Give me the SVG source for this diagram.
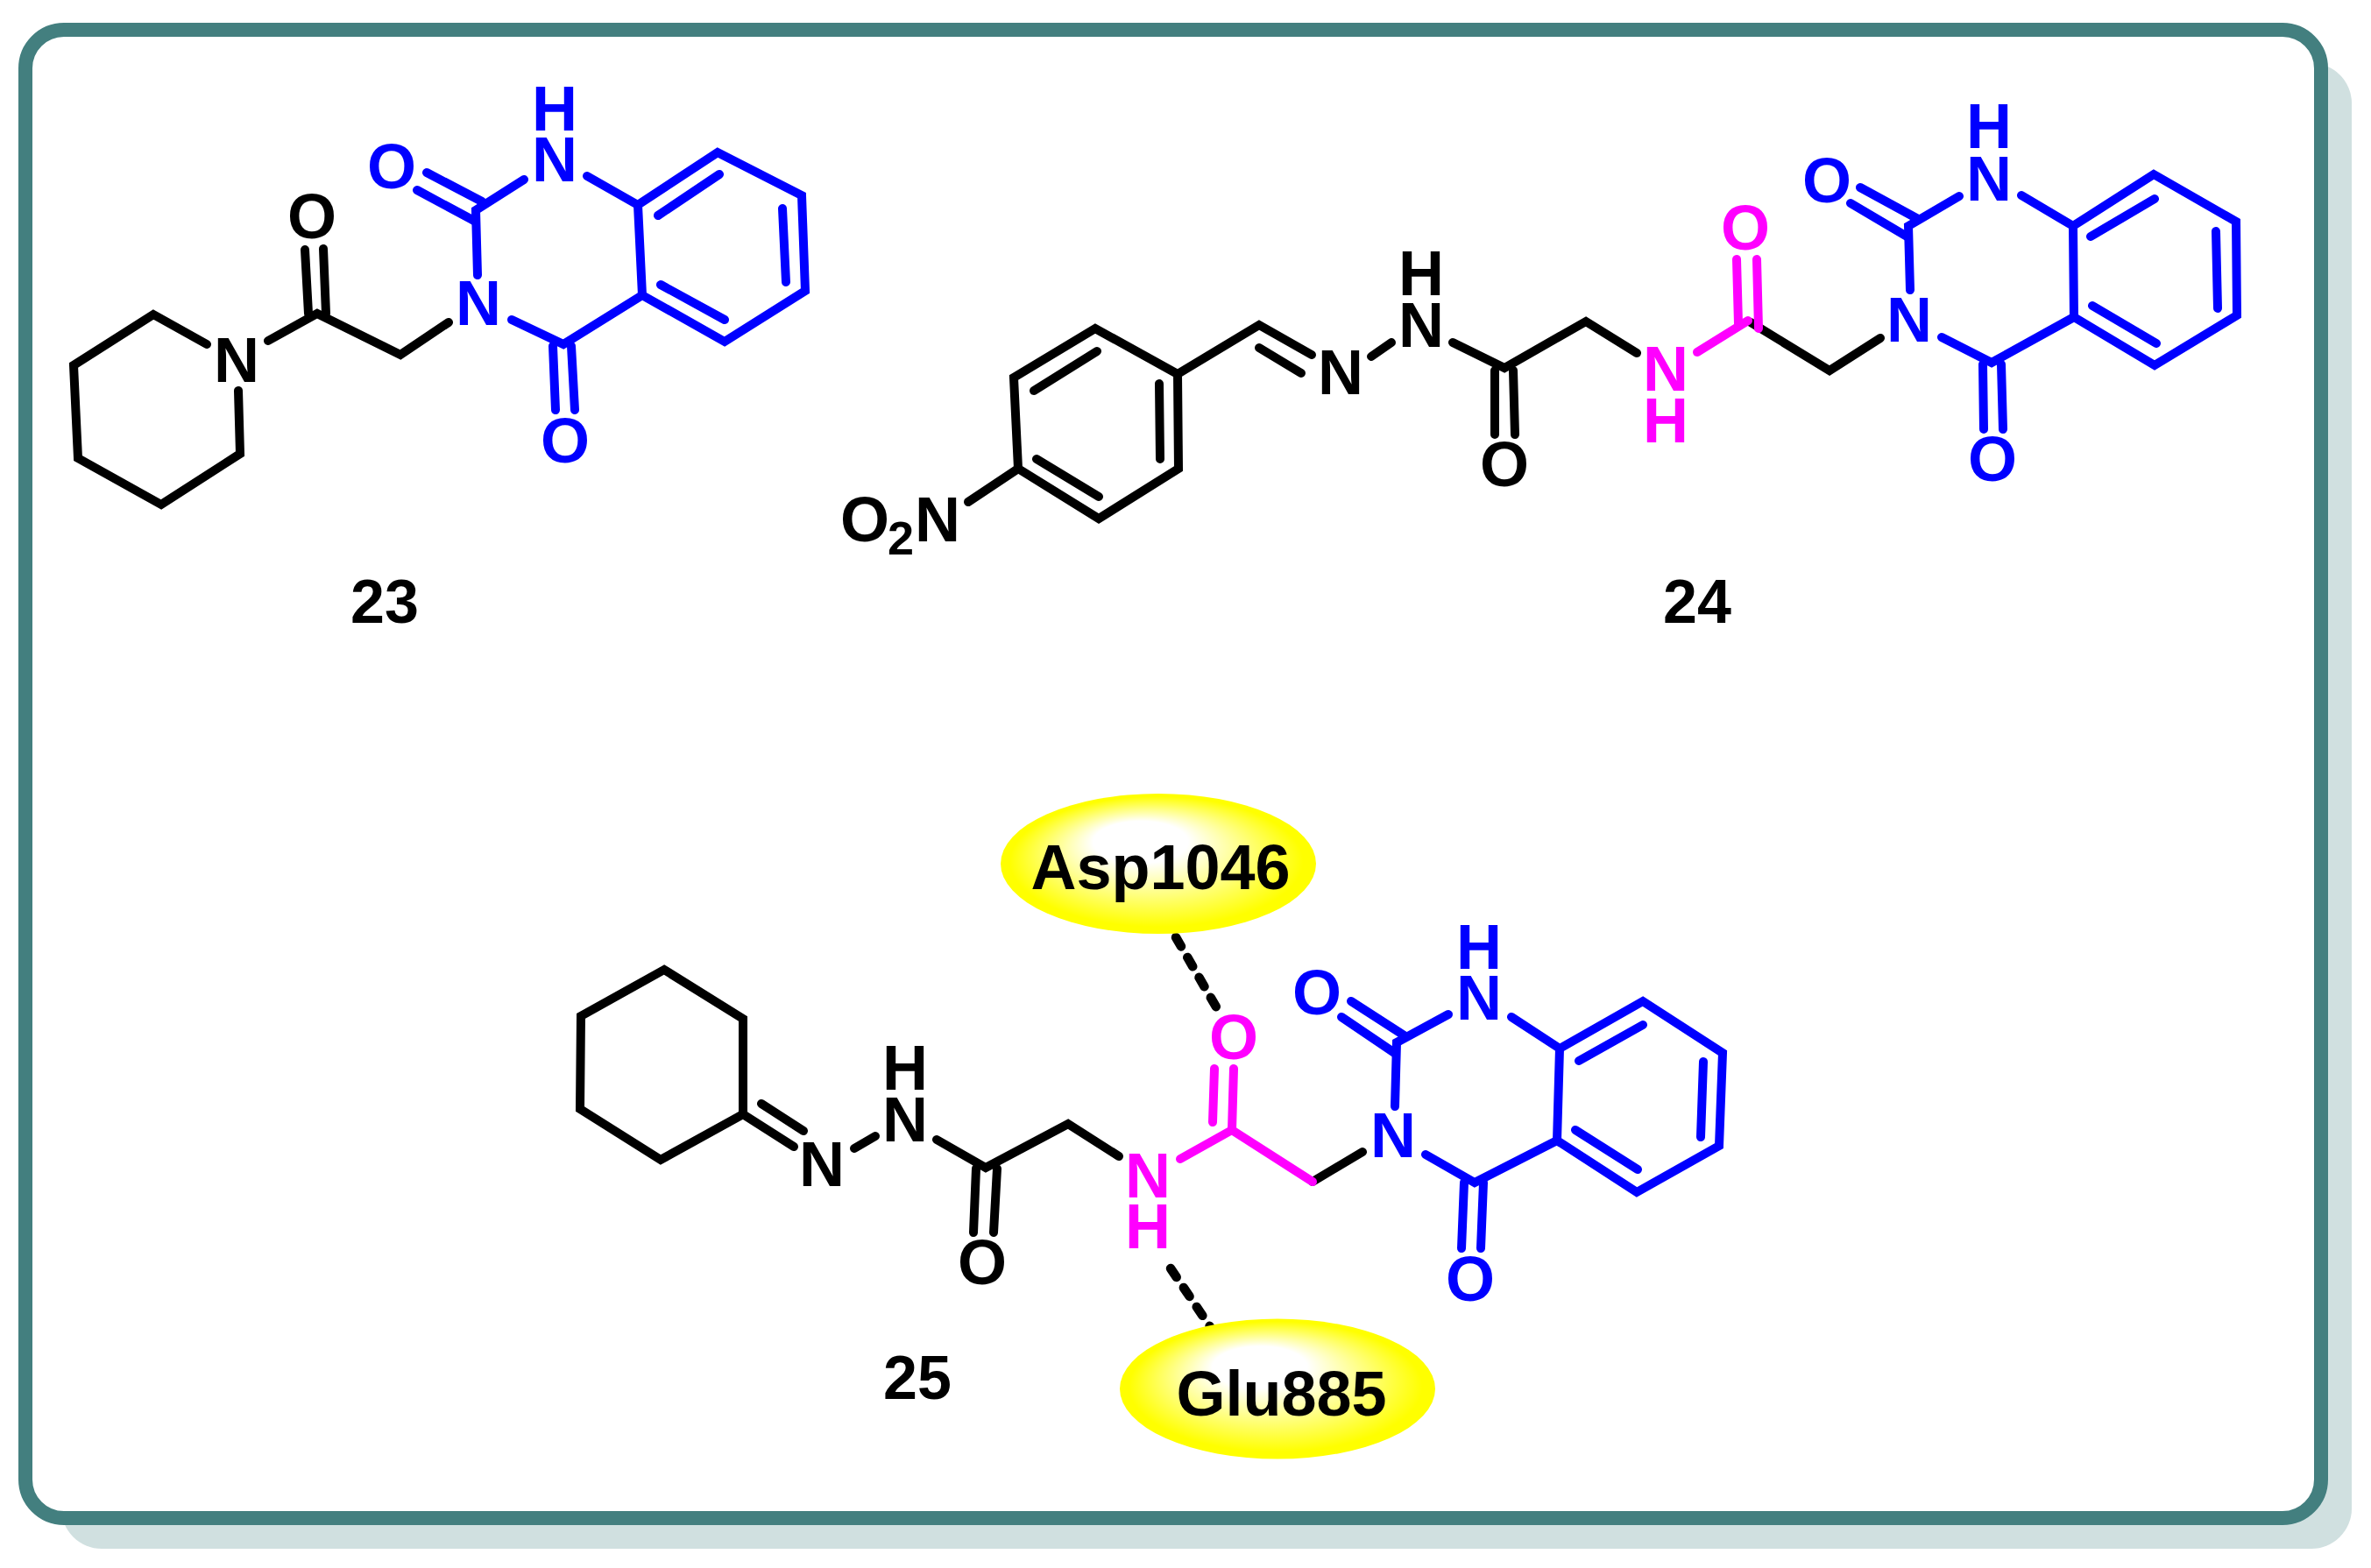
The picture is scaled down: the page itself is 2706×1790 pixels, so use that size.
<svg xmlns="http://www.w3.org/2000/svg" width="2706" height="1790" viewBox="0 0 2706 1790">
<style>
text{font-family:"Liberation Sans",Arial,sans-serif;font-weight:700;font-size:72px;text-anchor:middle}
.k{fill:#000}.b{fill:#00f}.m{fill:#f0f}
.lab{font-size:70px}.sub{font-size:54px}
path{fill:none;stroke-width:10;stroke-linecap:round;stroke-linejoin:miter}
.sk{stroke:#000}.sb{stroke:#00f}.sm{stroke:#f0f}
.hb{stroke:#000;stroke-width:10.5;stroke-dasharray:12 14.5;stroke-linecap:round}
.pk{fill:url(#pocket);stroke:none}
</style>
<defs>
<radialGradient id="pocket" cx="0.5" cy="0.5" r="0.5" fx="0.42" fy="0.28">
<stop offset="0" stop-color="#fff"/>
<stop offset="0.3" stop-color="#fff"/>
<stop offset="0.93" stop-color="#ff0"/>
<stop offset="1" stop-color="#ff0"/>
</radialGradient>
</defs>
<rect id="frame-shadow" x="70" y="72" width="2614" height="1696" rx="46" ry="46" fill="#d0e0e0"/>
<rect id="frame" x="29" y="34" width="2620" height="1699" rx="44" ry="44" fill="#fff" stroke="#437f7f" stroke-width="16"/>

<g id="compound-23">
<path class="sk" d="M236,393 L175,359 L84,417 L89,523 L184,576 L274,518 L272,446"/>
<path class="sk" d="M306,389 L362,358 L457,405 L512,368"/>
<path class="sk" d="M348,285 L352,358 M369,284 L372,358"/>
<path class="sb" d="M545,314 L543,240 L598,205"/>
<path class="sb" d="M550,230 L487,197 M541,252 L476,217"/>
<path class="sb" d="M670,201 L728,234 L819,174 L915,223 L919,332 L827,390 L733,337 L728,234"/>
<path class="sb" d="M751,246 L821,199 M893,238 L897,322 M754,325 L827,365"/>
<path class="sb" d="M584,365 L643,393 L733,337"/>
<path class="sb" d="M631,395 L634,468 M652,395 L656,468"/>
<text class="k" x="270" y="436">N</text>
<text class="k" x="356" y="272">O</text>
<text class="b" x="546" y="371">N</text>
<text class="b" x="447" y="215">O</text>
<text class="b"><tspan x="633" y="149">H</tspan><tspan x="633" y="207">N</tspan></text>
<text class="b" x="645" y="528">O</text>
<text class="k lab" x="439" y="711">23</text>
</g>

<g id="compound-24">
<path class="sk" d="M1250,375 L1157,431 L1162,535 L1254,592 L1345,535 L1344,427 Z"/>
<path class="sk" d="M1180,446 L1252,401 M1323,438 L1324,524 M1183,524 L1254,567"/>
<path class="sk" d="M1162,535 L1105,573"/>
<path class="sk" d="M1344,427 L1437,371 L1497,405 M1437,397 L1485,426"/>
<path class="sk" d="M1565,407 L1588,391"/>
<path class="sk" d="M1658,391 L1717,420 L1810,367 L1868,403"/>
<path class="sk" d="M1706,423 L1706,496 M1727,423 L1729,496"/>
<path class="sk" d="M1998,368 L2088,423 L2146,386"/>
<path class="sm" d="M1937,402 L1995,366"/>
<path class="sm" d="M1982,296 L1984,370 M2005,296 L2007,375"/>
<path class="sb" d="M2180,331 L2178,258 L2236,224"/>
<path class="sb" d="M2189,250 L2123,214 M2178,271 L2112,232"/>
<path class="sb" d="M2307,223 L2366,258 L2458,199 L2552,253 L2553,360 L2459,417 L2367,362 L2366,258"/>
<path class="sb" d="M2386,270 L2459,227 M2529,264 L2531,352 M2388,349 L2461,392"/>
<path class="sb" d="M2216,385 L2273,414 L2367,362"/>
<path class="sb" d="M2263,416 L2264,490 M2284,416 L2286,490"/>
<text class="k" y="618"><tspan x="987">O</tspan><tspan class="sub" x="1028" dy="15">2</tspan><tspan x="1070" dy="-15">N</tspan></text>
<text class="k" x="1530" y="450">N</text>
<text class="k"><tspan x="1622" y="337">H</tspan><tspan x="1622" y="396">N</tspan></text>
<text class="k" x="1717" y="555">O</text>
<text class="m"><tspan x="1901" y="446">N</tspan><tspan x="1901" y="505">H</tspan></text>
<text class="m" x="1992" y="285">O</text>
<text class="b" x="2179" y="390">N</text>
<text class="b" x="2085" y="231">O</text>
<text class="b"><tspan x="2270" y="169">H</tspan><tspan x="2270" y="229">N</tspan></text>
<text class="b" x="2274" y="549">O</text>
<text class="k lab" x="1937" y="711">24</text>
</g>

<g id="connectors">
<path class="hb" d="M1342,1070 L1390,1153"/>
<path class="hb" d="M1336,1448 L1382,1516"/>
</g>

<g id="compound-25">
<path class="sk" d="M758,1107 L663,1160 L662,1266 L754,1324 L848,1272 L848,1163 Z"/>
<path class="sk" d="M848,1272 L906,1309 M869,1260 L917,1291"/>
<path class="sk" d="M975,1311 L999,1297"/>
<path class="sk" d="M1069,1301 L1125,1333 L1219,1283 L1277,1320"/>
<path class="sk" d="M1114,1334 L1111,1407 M1138,1334 L1134,1407"/>
<path class="sk" d="M1498,1349 L1555,1315"/>
<path class="sm" d="M1347,1323 L1406,1290 L1498,1349"/>
<path class="sm" d="M1386,1220 L1384,1281 M1408,1220 L1406,1290"/>
<path class="sb" d="M1592,1263 L1594,1190 L1653,1158"/>
<path class="sb" d="M1604,1183 L1542,1143 M1593,1203 L1531,1161"/>
<path class="sb" d="M1725,1161 L1780,1197 L1875,1143 L1966,1202 L1962,1308 L1868,1361 L1777,1302 L1780,1197"/>
<path class="sb" d="M1802,1211 L1875,1170 M1944,1212 L1941,1298 M1798,1290 L1869,1335"/>
<path class="sb" d="M1627,1318 L1683,1350 L1777,1302"/>
<path class="sb" d="M1671,1350 L1668,1425 M1693,1350 L1690,1425"/>
<text class="k" x="938" y="1354">N</text>
<text class="k"><tspan x="1033" y="1244">H</tspan><tspan x="1033" y="1303">N</tspan></text>
<text class="k" x="1121" y="1466">O</text>
<text class="m"><tspan x="1310" y="1367">N</tspan><tspan x="1310" y="1425">H</tspan></text>
<text class="m" x="1408" y="1209">O</text>
<text class="b" x="1590" y="1321">N</text>
<text class="b" x="1503" y="1158">O</text>
<text class="b"><tspan x="1688" y="1106">H</tspan><tspan x="1688" y="1164">N</tspan></text>
<text class="b" x="1678" y="1485">O</text>
<text class="k lab" x="1047" y="1597">25</text>
</g>

<g id="residue-asp1046">
<ellipse class="pk" cx="1322" cy="986" rx="180" ry="80"/>
<text class="k" x="1324.5" y="1015">Asp1046</text>
</g>
<g id="residue-glu885">
<ellipse class="pk" cx="1458" cy="1585.5" rx="180" ry="80"/>
<text class="k" x="1462.5" y="1616">Glu885</text>
</g>
</svg>
